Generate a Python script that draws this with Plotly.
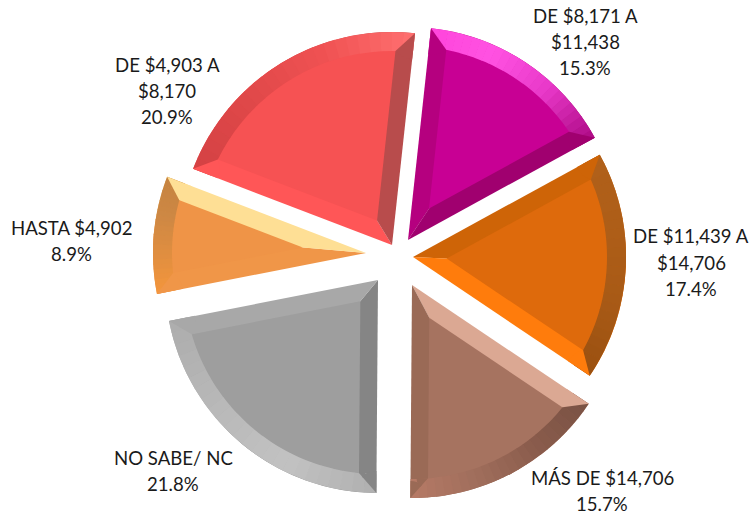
import math
import plotly.graph_objects as go

# ---- data -------------------------------------------------------------
categories = ["DE $8,171 A<br>$11,438", "DE $11,439 A<br>$14,706", "MÁS DE $14,706",
              "NO SABE/ NC", "HASTA $4,902", "DE $4,903 A<br>$8,170"]
values = [15.3, 17.4, 15.7, 21.8, 8.9, 20.9]

# ---- layout / style ----------------------------------------------------
W, H = 753, 515
ROTATION = 6.2
RADIUS = 213
SIDE_W = 17.5
ARC_W = 19
# exploded apex of each slice, in pixels
apex = [(408, 240), (413, 257), (412, 285), (378, 280), (366, 253), (392, 245)]
face = ["#C80094", "#DE6A0C", "#A67360", "#9E9E9E", "#EF9447", "#F65253"]
side_start = ["#B5007F", "#CE6407", "#DBA893", "#858585", "#F09648", "#FF5657"]
side_end = ["#A0006F", "#FF7C0C", "#9A6A56", "#A8A8A8", "#FEDF95", "#B84C4C"]
arc_stops = [
    ["#FF45DC", "#FF52E2", "#E838C8", "#AD0A85"],
    ["#B0601A", "#AE5E18", "#A85A16", "#9A5010"],
    ["#7A5244", "#8A5C4C", "#A06E5C", "#B67A66"],
    ["#B0B0B0", "#C2C2C2", "#B8B8B8", "#ADADAD"],
    ["#F4963C", "#E08E40", "#CE8844", "#C58340"],
    ["#D44244", "#E04849", "#F05253", "#FF7070"],
]
label_pos = [(585, [16, 42, 68]), (691, [236, 263, 289]), (602, [478, 504]),
             (173, [458, 484]), (71, [228, 254]), (167, [65, 91, 117])]
FONT = "Lato"
FONT_SIZE = 18.6
CLEAR = "rgba(0,0,0,0)"
TOTAL = sum(values)


def hex_rgb(c):
    return [int(c[i:i + 2], 16) for i in (1, 3, 5)]


def mix(stops, t):
    t = max(0, min(1, t)) * (len(stops) - 1)
    i = min(int(t), len(stops) - 2)
    f = t - i
    a, b = hex_rgb(stops[i]), hex_rgb(stops[i + 1])
    return "rgb(%d,%d,%d)" % tuple(round(x + (y - x) * f) for x, y in zip(a, b))


def wedge(cx, cy, r, rot, before, part, color, hole=0.0):
    """One coloured sector drawn by a pie trace centred at pixel (cx, cy)."""
    rest = max(TOTAL - before - part, 0)
    return go.Pie(
        values=[before, part, rest], sort=False, direction="clockwise",
        rotation=rot, hole=hole, textinfo="none", hoverinfo="skip",
        showlegend=False,
        marker=dict(colors=[CLEAR, color, CLEAR], line=dict(width=0)),
        domain=dict(x=[(cx - r) / W, (cx + r) / W],
                    y=[1 - (cy + r) / H, 1 - (cy - r) / H]),
    )


def unit(deg):
    a = math.radians(deg)
    return math.sin(a), -math.cos(a)


def compass(dx, dy):
    return math.degrees(math.atan2(dx, -dy)) % 360


def span(cx, cy, r, d1, d2, color):
    """Sector between two compass directions (shorter way round)."""
    delta = (d2 - d1 + 540) % 360 - 180
    start = d1 if delta > 0 else d2
    start = (start + 180) % 360 - 180
    return wedge(cx, cy, r, start, 0, abs(delta) / 360 * TOTAL, color)


def corner(ax, ay, theta, sign, color):
    """Mitre triangle at the outer corner of one straight bevel."""
    ex, ey = unit(theta)
    nx, ny = unit(theta + sign * 90)
    Cx, Cy = ax + RADIUS * ex, ay + RADIUS * ey
    t = math.sqrt((RADIUS - ARC_W) ** 2 - SIDE_W ** 2)
    Fx, Fy = ax + t * ex + SIDE_W * nx, ay + t * ey + SIDE_W * ny
    full = math.hypot(Fx - Cx, Fy - Cy)
    L = min(full, Cx, W - Cx, Cy, H - Cy)
    out = [span(Cx, Cy, L, compass(ax - Cx, ay - Cy), compass(Fx - Cx, Fy - Cy), color)]
    if L < full:
        # the sector would leave the page: finish the triangle from its inner point
        out.append(span(Fx, Fy, min(full - L + 2, SIDE_W),
                        compass(Cx - Fx, Cy - Fy), compass(-nx, -ny), color))
    return out


fig = go.Figure()
cum = 0.0
N_SEG = 24
for i, v in enumerate(values):
    ax, ay = apex[i]
    th0 = ROTATION + cum / TOTAL * 360
    half_deg = v / TOTAL * 180
    bis = th0 + half_deg
    # two straight bevels, split along the bisector
    fig.add_trace(wedge(ax, ay, RADIUS, ROTATION, cum, v / 2 + 0.05, side_start[i]))
    fig.add_trace(wedge(ax, ay, RADIUS, ROTATION, cum + v / 2, v / 2, side_end[i]))
    # flat face, moved inward along the bisector
    d = SIDE_W / math.sin(math.radians(half_deg))
    bx, by = unit(bis)
    fig.add_trace(wedge(ax + d * bx, ay + d * by, RADIUS - d, ROTATION, cum, v, face[i]))
    # outer curved bevel, stepped through its colour stops
    for s in range(N_SEG):
        p = v / N_SEG
        fig.add_trace(wedge(ax, ay, RADIUS, ROTATION, cum + s * p,
                            p + (0.04 if s < N_SEG - 1 else 0),
                            mix(arc_stops[i], (s + 0.5) / N_SEG),
                            hole=(RADIUS - ARC_W) / RADIUS))
    # mitred corners
    fig.add_traces(corner(ax, ay, th0, 1, side_start[i]))
    fig.add_traces(corner(ax, ay, th0 + 2 * half_deg, -1, side_end[i]))
    cum += v

annotations = []
for cat, v, (x, ys) in zip(categories, values, label_pos):
    for line, y in zip(cat.split("<br>") + [f"{v}%"], ys):
        annotations.append(dict(text=line, x=x / W, y=1 - y / H, xref="paper", yref="paper",
                                showarrow=False, xanchor="center", yanchor="middle",
                                font=dict(family=FONT, size=FONT_SIZE, color="#1a1a1a")))

fig.update_layout(width=W, height=H, margin=dict(l=0, r=0, t=0, b=0),
                  paper_bgcolor="white", plot_bgcolor="white",
                  annotations=annotations, showlegend=False)
fig.write_html("out.html", config={"displayModeBar": False},
               post_script="document.body.style.margin='0';document.documentElement.style.overflow='hidden';")
